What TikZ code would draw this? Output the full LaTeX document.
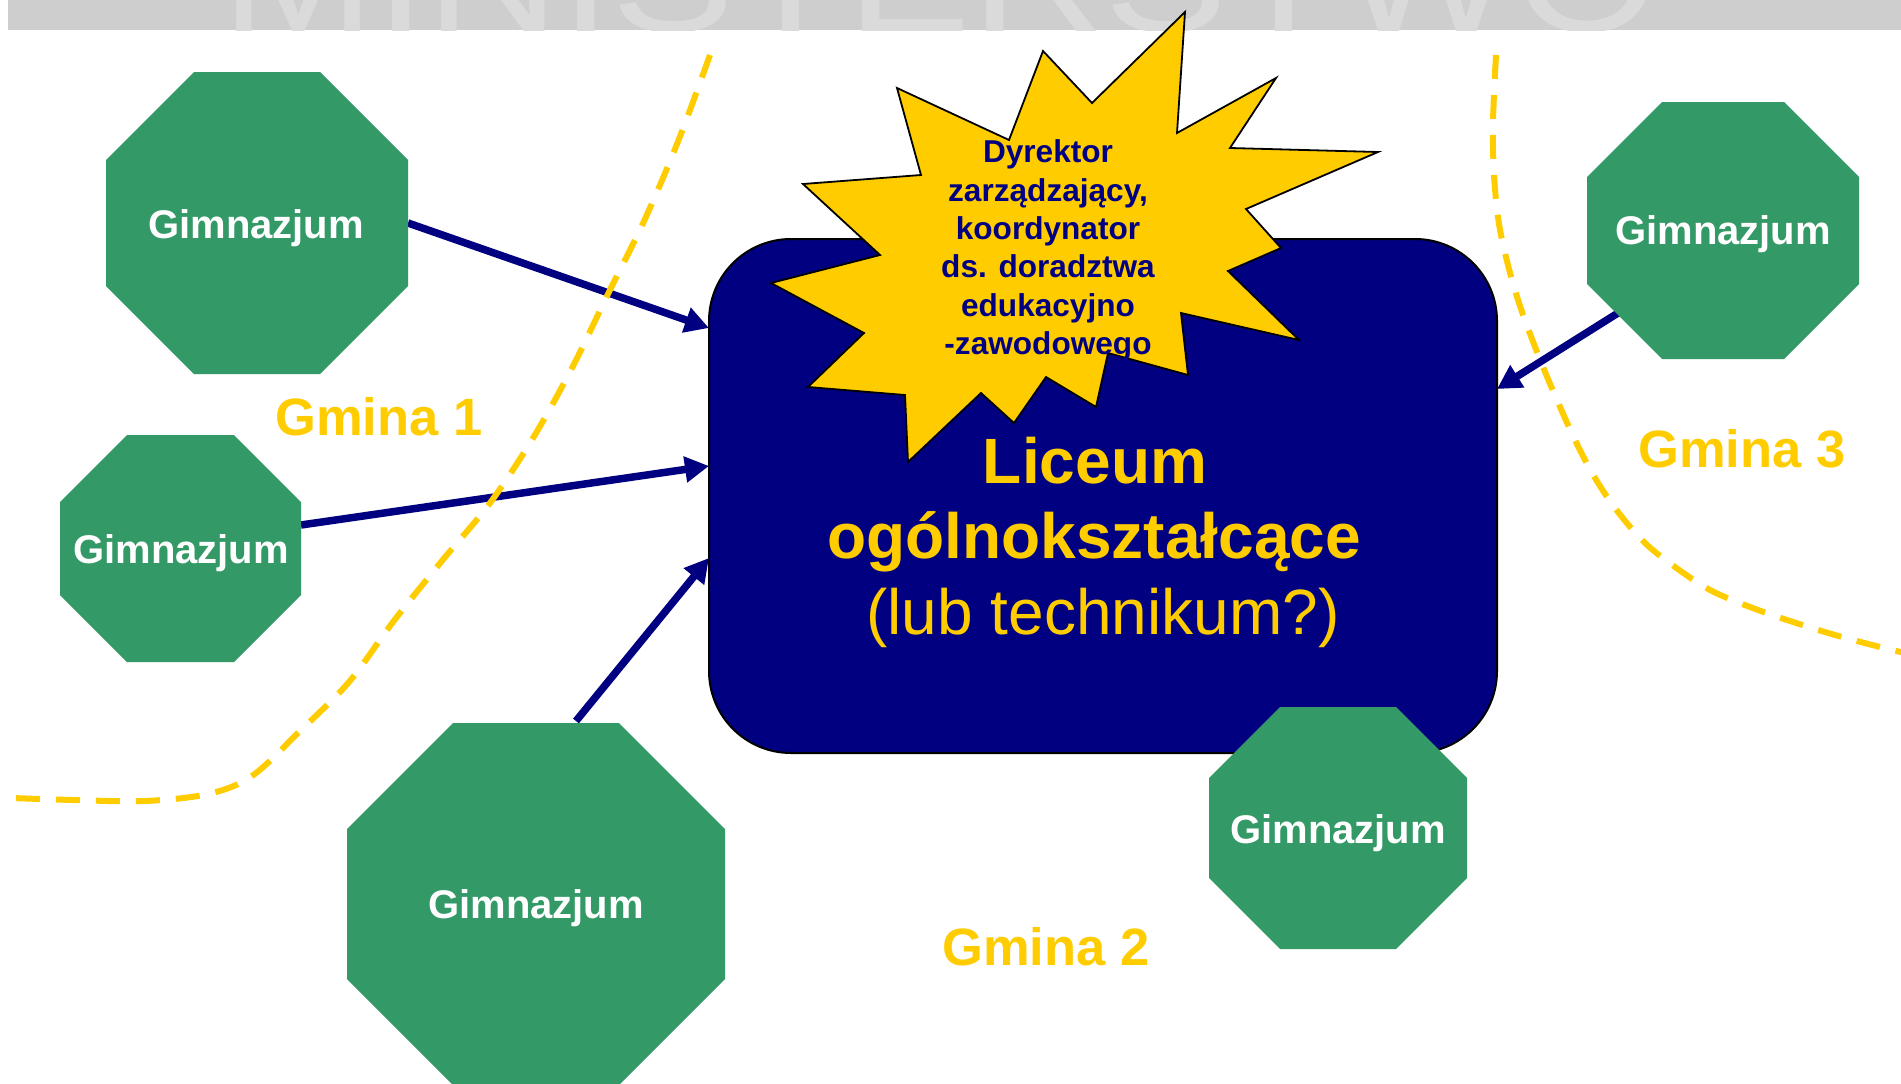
\documentclass[tikz,border=0pt]{standalone}
\usepackage{fontspec}
\setmainfont{Liberation Sans}
\usetikzlibrary{arrows.meta,calc}
\definecolor{gimgreen}{HTML}{339966}
\definecolor{gold}{HTML}{FFCC00}
\definecolor{navyb}{HTML}{000080}
\definecolor{bandgray}{HTML}{CECECE}
\definecolor{wmgray}{HTML}{DADADA}
\tikzset{
  octbox/.style={rectangle, draw=none, inner sep=0pt, outer sep=0pt},
  gimtxt/.style={text=white, font=\bfseries\fontsize{40}{48}\selectfont, inner sep=0pt, anchor=base},
  gmtxt/.style={text=gold, font=\bfseries\fontsize{52.5}{60}\selectfont, inner sep=0pt, anchor=base},
  arr/.style={draw=navyb, line width=7.5pt, -{Triangle[length=24pt,width=25pt]}},
  border/.style={draw=gold, line width=6pt, dash pattern=on 24pt off 16pt},
}
\newcommand{\octagonnode}[6]{%
  \node[octbox, minimum width=#4pt, minimum height=#5pt] (#1) at (#2,#3) {};
  \fill[gimgreen] ($(#1.north west)+(#6,0)$) -- ($(#1.north east)+(-#6,0)$)
    -- ($(#1.north east)+(0,#6)$) -- ($(#1.south east)+(0,-#6)$)
    -- ($(#1.south east)+(-#6,0)$) -- ($(#1.south west)+(#6,0)$)
    -- ($(#1.south west)+(0,-#6)$) -- ($(#1.north west)+(0,#6)$) -- cycle;
}
\begin{document}
\begin{tikzpicture}[x=1pt,y=-1pt]
\useasboundingbox (0,0) rectangle (1901,1084);
\clip (0,0) rectangle (1901,1084);
% top banner with watermark
\begin{scope}
  \clip (8,0) rectangle (1901,30);
  \fill[bandgray] (8,0) rectangle (1901,30);
  \node[anchor=base west, inner sep=0pt, text=wmgray, font=\fontsize{158}{160}\selectfont, xscale=1.17] (wm) at (221,31) {MINISTERSTWO};
\end{scope}
% main box
\node[rectangle, rounded corners=82pt, fill=navyb, draw=black, line width=2pt,
      minimum width=788pt, minimum height=514pt, inner sep=0pt] (lo) at (1103,496) {};
% starburst
\fill[gold, draw=black, line width=1.8pt, line join=miter]
  (1185,12) -- (1177,133) -- (1276,78) -- (1230,148) -- (1378,152) -- (1246,209)
  -- (1281,248) -- (1228,271) -- (1299,340) -- (1181,313) -- (1188,375) -- (1108,353)
  -- (1096,407) -- (1046,377) -- (1014,423) -- (981,393) -- (908,462) -- (905,395)
  -- (808,387) -- (864,333) -- (771,283) -- (880,255) -- (803,184) -- (921,175)
  -- (897,88) -- (1009,140) -- (1043,51) -- (1092,103) -- cycle;
\node[align=center, text=navyb, font=\bfseries\fontsize{31.6}{38.4}\selectfont, inner sep=0pt] (dyr) at (1048,250.5)
  {Dyrektor\\zarządzający,\\koordynator\\ds. doradztwa\\edukacyjno\\-zawodowego};
% octagon geometry (nodes)
\node[octbox, minimum width=302pt, minimum height=302pt] (o1) at (257,223) {};
% arrow end points
\coordinate (s2) at (301,525);
\coordinate (s3) at (576,721);
\coordinate (s4) at (1618,313);
\coordinate (t1) at (709,328);
\coordinate (t2) at (709,466);
\coordinate (t3) at (709,558);
\coordinate (t4) at (1497,389);
\draw[arr] (o1.east) -- (t1);
\draw[arr] (s2) -- (t2);
\draw[arr] (s3) -- (t3);
\draw[arr] (s4) -- (t4);
% octagons
\octagonnode{o1}{257}{223}{302}{302}{88}
\octagonnode{o2}{180.5}{548.5}{241}{227}{67}
\octagonnode{o3}{536}{904}{378}{362}{106}
\octagonnode{o4}{1723}{230.5}{272}{257}{75}
\octagonnode{o5}{1338}{828}{258}{242}{71}
% dashed borders
\draw[border] plot[smooth, tension=0.55] coordinates {(710,55) (679,139) (645,219) (608,294) (572,368) (533,438) (490,503) (441,562) (393,622) (349,682) (300,731) (252,776) (208,794) (145,801) (73,800) (12,798)};
\draw[border] plot[smooth, tension=0.55] coordinates {(1496,55) (1493,122) (1494,175) (1499,224) (1509,269) (1522,312) (1541,362) (1557,400) (1575,440) (1595,478) (1618,512) (1645,543) (1675,567) (1710,590) (1750,607) (1790,621) (1835,635) (1880,647) (1905,653)};
% labels
\node[gimtxt] (g1) at (256,238) {Gimnazjum};
\node[gimtxt] (g2) at (181,563) {Gimnazjum};
\node[gimtxt] (g3) at (536,918) {Gimnazjum};
\node[gimtxt] (g4) at (1723,244) {Gimnazjum};
\node[gimtxt] (g5) at (1338,843) {Gimnazjum};
\node[gmtxt] (gm1) at (379,435) {Gmina 1};
\node[gmtxt] (gm2) at (1046,965) {Gmina 2};
\node[gmtxt] (gm3) at (1742,467) {Gmina 3};
\node[anchor=base, inner sep=0pt, text=gold, font=\bfseries\fontsize{64}{76}\selectfont] (l1) at (1095,483) {Liceum};
\node[anchor=base, inner sep=0pt, text=gold, font=\bfseries\fontsize{64}{76}\selectfont] (l2) at (1094,558) {ogólnokształcące};
\node[anchor=base, inner sep=0pt, text=gold, font=\fontsize{64}{72}\selectfont] (l3) at (1103,634) {(lub technikum?)};
\end{tikzpicture}
\end{document}
